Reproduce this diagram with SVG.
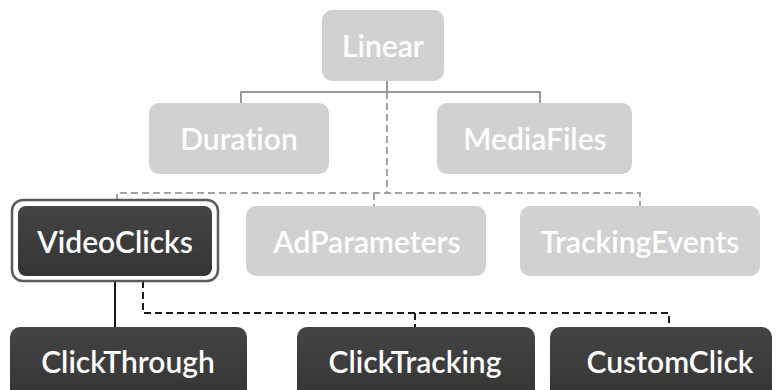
<svg xmlns="http://www.w3.org/2000/svg" width="776" height="390" viewBox="0 0 776 390">
<defs>
<linearGradient id="dk" x1="0" y1="0" x2="0" y2="1">
<stop offset="0" stop-color="#444444"/>
<stop offset="1" stop-color="#353535"/>
</linearGradient>
</defs>
<style>
.lt{fill:#d1d1d1}
.dk{fill:url(#dk)}
.t{font-family:Lato,"Liberation Sans",sans-serif;font-size:30px;fill:#ffffff;text-anchor:middle;font-weight:600;font-variant-ligatures:none}
.gs{stroke:#9a9a9a;stroke-width:2;fill:none}
.gd{stroke:#a3a3a3;stroke-width:2;fill:none;stroke-dasharray:7 4}
.bs{stroke:#1a1a1a;stroke-width:2;fill:none}
.bd{stroke:#1a1a1a;stroke-width:2;fill:none;stroke-dasharray:7 4}
</style>
<rect width="776" height="390" fill="#ffffff"/>
<g id="connectors">
<path class="gs" d="M387 81 V92 M241 103 V92 H540 V103"/>
<path class="gd" d="M387 92 V193 M117 201 V193 H640 V206 M374 193 V206"/>
<path class="bs" d="M115 281 V327"/>
<path class="bd" d="M143 281 V313 H669 V327 M415 313 V327"/>
</g>
<g id="linear"><rect class="lt" x="322" y="10" width="122" height="71" rx="10"/><text class="t" x="383" y="57">Linear</text></g>
<g id="duration"><rect class="lt" x="149" y="103" width="180" height="71" rx="10"/><text class="t" x="239" y="150">Duration</text></g>
<g id="mediafiles"><rect class="lt" x="437" y="103" width="195" height="71" rx="10"/><text class="t" x="535" y="150">MediaFiles</text></g>
<g id="videoclicks">
<rect x="12" y="200" width="206" height="81" rx="11" fill="#ffffff" stroke="#5a5a5a" stroke-width="2.5"/>
<rect class="dk" x="18" y="206" width="194" height="70" rx="8"/>
<text class="t" x="115" y="253">VideoClicks</text></g>
<g id="adparameters"><rect class="lt" x="246" y="206" width="240" height="70" rx="10"/><text class="t" x="367" y="253">AdParameters</text></g>
<g id="trackingevents"><rect class="lt" x="520" y="206" width="240" height="70" rx="10"/><text class="t" x="640" y="253">TrackingEvents</text></g>
<g id="clickthrough"><rect class="dk" x="10" y="327" width="237" height="72" rx="10"/><text class="t" x="128" y="373">ClickThrough</text></g>
<g id="clicktracking"><rect class="dk" x="297" y="327" width="238" height="72" rx="10"/><text class="t" x="415" y="373">ClickTracking</text></g>
<g id="customclick"><rect class="dk" x="550" y="327" width="222" height="72" rx="10"/><text class="t" x="670" y="373">CustomClick</text></g>
</svg>
